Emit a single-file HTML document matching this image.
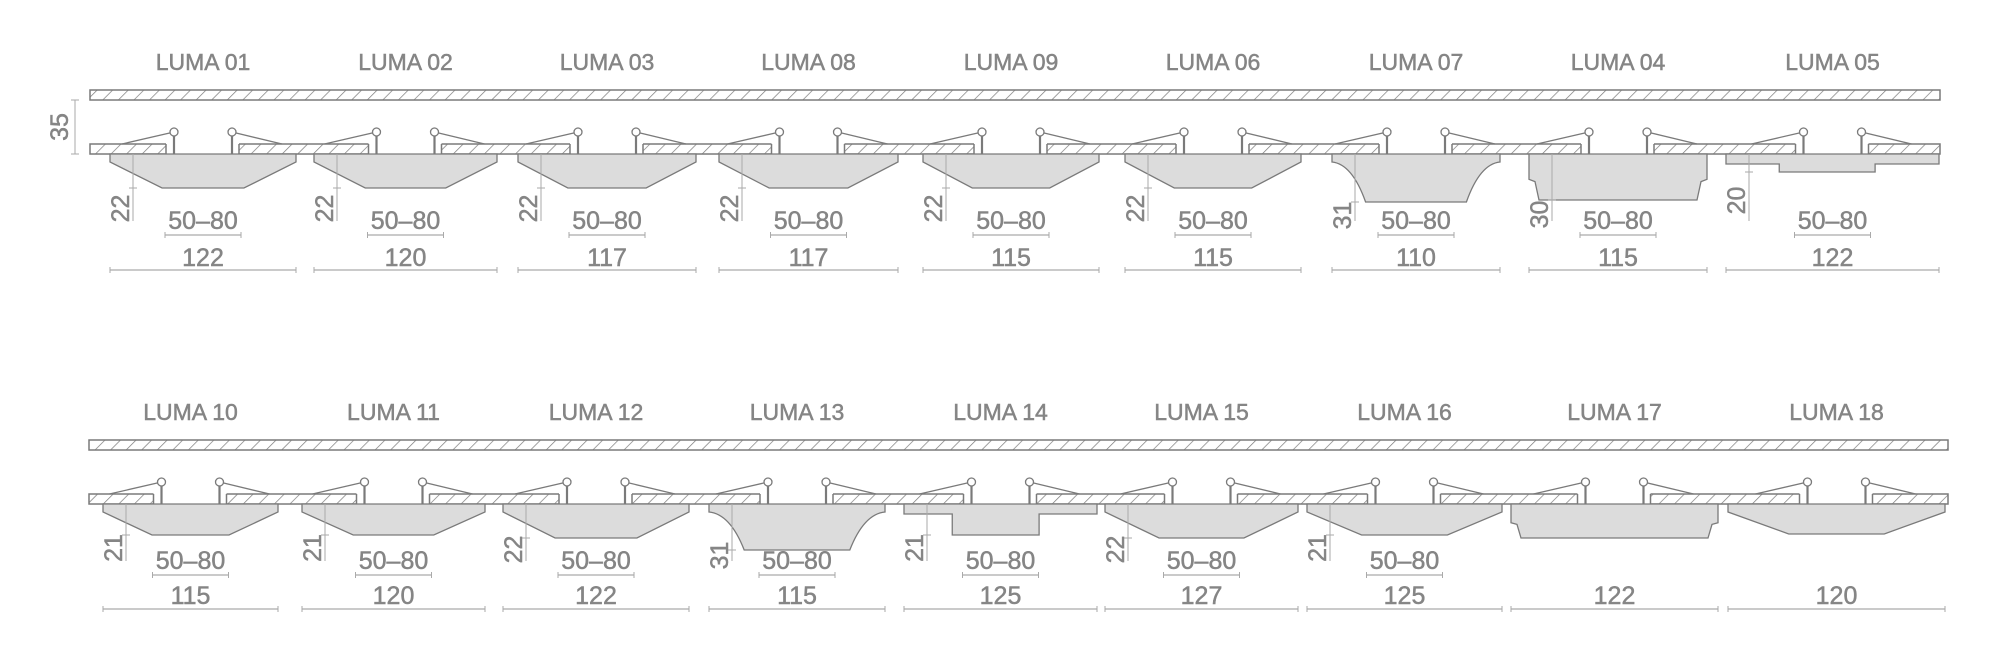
<!DOCTYPE html>
<html><head><meta charset="utf-8"><style>
html,body{margin:0;padding:0;background:#fff;}
svg{display:block;}
text{font-family:"Liberation Sans",sans-serif;fill:#858585;stroke:#858585;stroke-width:0.5;}
</style></head><body>
<svg id="s" width="2000" height="663" viewBox="0 0 2000 663" xmlns="http://www.w3.org/2000/svg">
<defs>
<pattern id="h" patternUnits="userSpaceOnUse" width="11" height="11" patternTransform="rotate(45)">
<rect width="11" height="11" fill="#fff"/><line x1="0" y1="0" x2="0" y2="11" stroke="#7a7a7a" stroke-width="1.4"/>
</pattern>
</defs>
<g id="g"></g>
</svg>
<script>
const NS="http://www.w3.org/2000/svg",g=document.getElementById('g');
function el(t,a,txt){const e=document.createElementNS(NS,t);for(const k in a)e.setAttribute(k,a[k]);if(txt!==undefined)e.textContent=txt;g.appendChild(e);return e;}
const rows=[
 {dy:0,bx0:90,bx1:1940,t50:229,l50:235,tw:266,lw:270,names:['LUMA 01','LUMA 02','LUMA 03','LUMA 08','LUMA 09','LUMA 06','LUMA 07','LUMA 04','LUMA 05'],
  cols:[[110,296],[314,497],[518,696],[719,898],[923,1099],[1125,1301],[1332,1500],[1529,1707],[1726,1939]],
  dims:['22','22','22','22','22','22','31','30','20'],dp:[34,34,34,34,34,34,48,46,18],
  w:['122','120','117','117','115','115','110','115','122'],shape:[0,0,0,0,0,0,1,2,3]},
 {dy:350,bx0:89,bx1:1948,t50:569,l50:575,tw:604,lw:609,names:['LUMA 10','LUMA 11','LUMA 12','LUMA 13','LUMA 14','LUMA 15','LUMA 16','LUMA 17','LUMA 18'],
  cols:[[103,278],[302,485],[503,689],[709,885],[904,1097],[1105,1298],[1307,1502],[1511,1718],[1728,1945]],
  dims:['21','21','22','31','21','22','21','',''],dp:[31,31,34,46,31,34,31,34,30],
  w:['115','120','122','115','125','127','125','122','120'],shape:[0,0,0,1,3,0,0,2,0]}
];
rows.forEach(r=>{
 const d=r.dy;
 el('rect',{x:r.bx0,y:90+d,width:r.bx1-r.bx0,height:10,fill:'url(#h)',stroke:'#7a7a7a','stroke-width':1.5});
 el('rect',{x:r.bx0,y:144+d,width:r.bx1-r.bx0,height:10,fill:'url(#h)',stroke:'#7a7a7a','stroke-width':1.5});
 r.cols.forEach((c,i)=>{
  const x0=c[0],x1=c[1],cx=(x0+x1)/2,hl=cx-29,hr=cx+29;
  el('rect',{x:hl-8,y:143+d,width:(hr+7)-(hl-8),height:11,fill:'#fff'});
  el('line',{x1:hl-8,y1:144+d,x2:hl-8,y2:154+d,stroke:'#7a7a7a','stroke-width':1.5});
  el('line',{x1:hr+7,y1:144+d,x2:hr+7,y2:154+d,stroke:'#7a7a7a','stroke-width':1.5});
  [[hl,hl-52],[hr,hr+50]].forEach(([hx,ex])=>{
   el('line',{x1:hx,y1:135+d,x2:hx,y2:154+d,stroke:'#7a7a7a','stroke-width':2.2});
   el('line',{x1:hx,y1:132+d,x2:ex,y2:144+d,stroke:'#7a7a7a','stroke-width':1.3});
   el('circle',{cx:hx,cy:132+d,r:4,fill:'#fff',stroke:'#7a7a7a','stroke-width':1.3});
  });
  const y0=154+d,dp=r.dp[i],y1=y0+dp,w=x1-x0,s=r.shape[i];
  let p;
  if(s===0) p=`M${x0},${y0} L${x1},${y0} L${x1},${y0+8} L${x1-0.28*w},${y1} L${x0+0.28*w},${y1} L${x0},${y0+8} Z`;
  else if(s===1) p=`M${x0},${y0} L${x1},${y0} L${x1},${y0+8} Q${x1-0.12*w},${y0+10} ${x1-0.2*w},${y1} L${x0+0.2*w},${y1} Q${x0+0.12*w},${y0+10} ${x0},${y0+8} Z`;
  else if(s===2) p=`M${x0},${y0} L${x1},${y0} L${x1},${y0+dp*0.55} L${x1-6},${y0+dp*0.6} L${x1-10},${y1} L${x0+10},${y1} L${x0+6},${y0+dp*0.6} L${x0},${y0+dp*0.55} Z`;
  else p=`M${x0},${y0} L${x1},${y0} L${x1},${y0+10} L${x1-0.3*w},${y0+10} L${x1-0.3*w},${y1} L${x0+0.25*w},${y1} L${x0+0.25*w},${y0+10} L${x0},${y0+10} Z`;
  el('path',{d:p,fill:'#dcdcdc',stroke:'#7a7a7a','stroke-width':1.3});
  el('text',{x:cx,y:70+d,'text-anchor':'middle','font-size':23},r.names[i]);
  if(r.dims[i]){
   const dx=x0+23,ty=(y1+r.t50)/2+(r.dy?-4:0);
   el('line',{x1:dx,y1:y0,x2:dx,y2:r.t50-8,stroke:'#aaa','stroke-width':1});
   el('line',{x1:dx-4,y1:y1,x2:dx+4,y2:y1,stroke:'#aaa','stroke-width':1});
   el('text',{x:0,y:0,'text-anchor':'middle','font-size':25,transform:`translate(${dx-4},${ty}) rotate(-90)`},r.dims[i]);
   el('text',{x:cx,y:r.t50,'text-anchor':'middle','font-size':25},'50–80');
   el('line',{x1:cx-38,y1:r.l50,x2:cx+38,y2:r.l50,stroke:'#aaa','stroke-width':1.3});
   el('line',{x1:cx-38,y1:r.l50-3,x2:cx-38,y2:r.l50+3,stroke:'#aaa'});
   el('line',{x1:cx+38,y1:r.l50-3,x2:cx+38,y2:r.l50+3,stroke:'#aaa'});
  }
  el('text',{x:cx,y:r.tw,'text-anchor':'middle','font-size':25},r.w[i]);
  el('line',{x1:x0,y1:r.lw,x2:x1,y2:r.lw,stroke:'#aaa','stroke-width':1.3});
  el('line',{x1:x0,y1:r.lw-3,x2:x0,y2:r.lw+3,stroke:'#aaa'});
  el('line',{x1:x1,y1:r.lw-3,x2:x1,y2:r.lw+3,stroke:'#aaa'});
 });
});
el('line',{x1:75,y1:100,x2:75,y2:154,stroke:'#aaa','stroke-width':1});
el('line',{x1:71,y1:100,x2:79,y2:100,stroke:'#aaa'});
el('line',{x1:71,y1:154,x2:79,y2:154,stroke:'#aaa'});
el('text',{x:0,y:0,'text-anchor':'middle','font-size':25,transform:'translate(68,127) rotate(-90)'},'35');
</script>
</body></html>
